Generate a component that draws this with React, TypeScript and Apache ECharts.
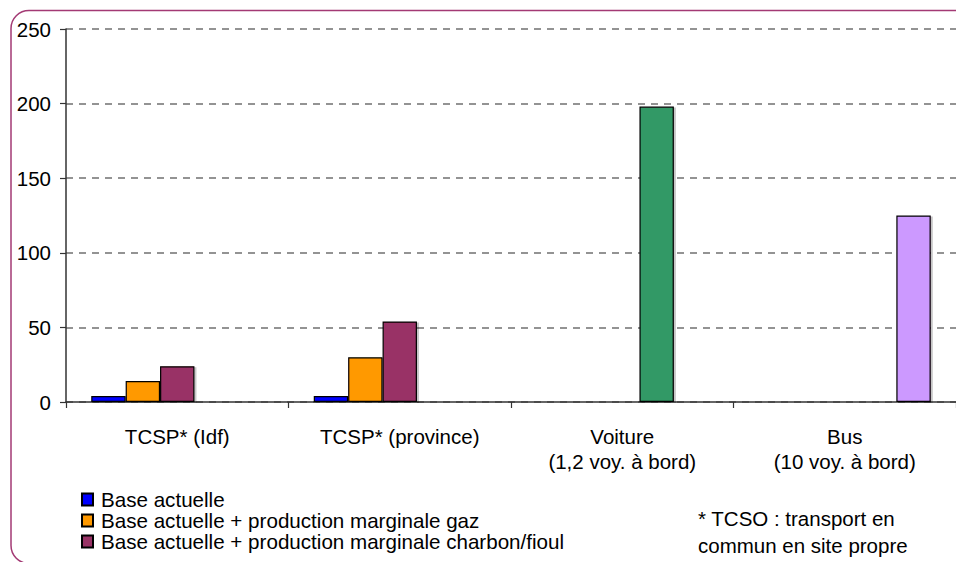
import React, { useEffect, useRef } from "react";
import * as echarts from "echarts";

const categories = [
  "TCSP* (Idf)",
  "TCSP* (province)",
  "Voiture\n(1,2 voy. à bord)",
  "Bus\n(10 voy. à bord)",
];
const seriesNames = [
  "Base actuelle",
  "Base actuelle + production marginale gaz",
  "Base actuelle + production marginale charbon/fioul",
  "Voiture",
  "Bus",
];
const baseActuelle = [4, 4, null, null];
const margGaz = [14, 30, null, null];
const margCharbon = [24, 54, null, null];
const voiture = [null, null, 198, null];
const bus = [null, null, null, 125];
const seriesColors = ["#0000FF", "#FF9900", "#993366", "#339966", "#CC99FF"];
const yTicks = { min: 0, max: 250, interval: 50 };
const footnote = ["* TCSO : transport en", "commun en site propre"];

const FONT = "'Liberation Sans', Arial, Helvetica, sans-serif";

export default function App() {
  const ref = useRef<HTMLDivElement>(null);
  useEffect(() => {
    if (!ref.current) return;
    const chart = echarts.init(ref.current, null, { renderer: "svg" });
    const values = [baseActuelle, margGaz, margCharbon, voiture, bus];
    chart.setOption({
      animation: false,
      backgroundColor: "#ffffff",
      textStyle: { fontFamily: FONT, color: "#000" },
      grid: { left: 66, top: 29, width: 898, height: 373, containLabel: false },
      legend: {
        data: seriesNames.slice(0, 3),
        orient: "vertical",
        left: 81,
        top: 489,
        icon: "rect",
        itemWidth: 11,
        itemHeight: 12,
        itemGap: 0,
        padding: 0,
        selectedMode: false,
        textStyle: { fontFamily: FONT, fontSize: 20.6, color: "#000", lineHeight: 20, padding: [0, 0, 0, 3] },
      },
      xAxis: {
        type: "category",
        data: categories,
        boundaryGap: true,
        axisLine: { lineStyle: { color: "#333333", width: 1.5 } },
        axisTick: { show: true, length: 6, alignWithLabel: false, lineStyle: { color: "#333333", width: 1.2 } },
        axisLabel: {
          interval: 0,
          margin: 22,
          fontFamily: FONT,
          fontSize: 20.5,
          lineHeight: 25,
          color: "#000",
        },
      },
      yAxis: {
        type: "value",
        min: yTicks.min,
        max: yTicks.max,
        interval: yTicks.interval,
        axisLine: { show: true, lineStyle: { color: "#333333", width: 1.5 } },
        axisTick: { show: true, length: 6, lineStyle: { color: "#333333", width: 1.2 } },
        axisLabel: { margin: 15, fontFamily: FONT, fontSize: 20.5, color: "#000" },
        splitLine: { show: true, lineStyle: { color: "#707070", width: 1.5, type: [7, 6] } },
      },
      series: seriesNames.map((name, i) => ({
        name,
        type: "bar",
        data: values[i],
        barGap: "0%",
        barCategoryGap: "22.7%",
        itemStyle: {
          color: seriesColors[i],
          borderColor: "#000",
          borderWidth: 1.2,
          shadowColor: "rgba(0,0,0,0.22)",
          shadowOffsetX: 2,
          shadowOffsetY: 1,
          shadowBlur: 0,
        },
      })),
      graphic: [
        {
          type: "rect",
          shape: { x: 11, y: 10.5, width: 965, height: 553, r: 18 },
          style: { fill: "none", stroke: "#A33A74", lineWidth: 1.5 },
          silent: true,
        },
        {
          type: "text",
          x: 698,
          y: 518,
          style: { text: footnote[0], fontFamily: FONT, fontSize: 20.5, fill: "#000", textVerticalAlign: "middle" },
        },
        {
          type: "text",
          x: 698,
          y: 545,
          style: { text: footnote[1], fontFamily: FONT, fontSize: 20.5, fill: "#000", textVerticalAlign: "middle" },
        },
      ],
    });
    return () => chart.dispose();
  }, []);
  return (
    <div
      ref={ref}
      style={{ position: "fixed", left: 0, top: 0, width: 956, height: 562 }}
    />
  );
}
